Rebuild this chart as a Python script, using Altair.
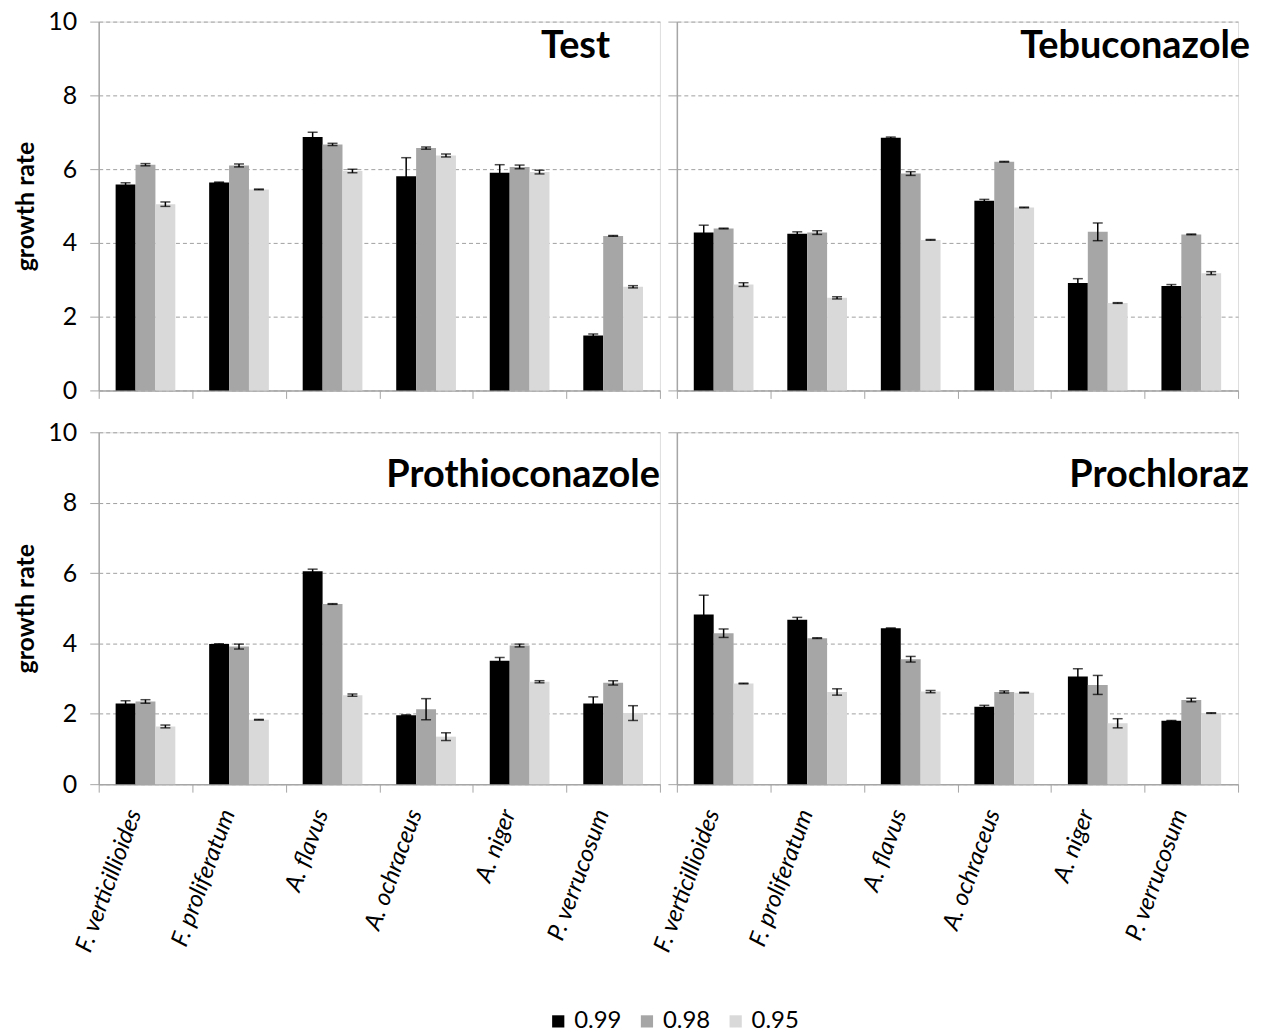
import altair as alt
import pandas as pd

species = ["F. verticillioides", "F. proliferatum", "A. flavus", "A. ochraceus", "A. niger", "P. verrucosum"]
aw_levels = ["0.99", "0.98", "0.95"]
panels = ["Test", "Tebuconazole", "Prothioconazole", "Prochloraz"]

# growth rate values per panel and water activity level
test_099 = [5.58, 5.64, 6.87, 5.81, 5.90, 1.49]
test_098 = [6.12, 6.10, 6.67, 6.57, 6.06, 4.19]
test_095 = [5.05, 5.45, 5.95, 6.37, 5.92, 2.81]
test_err_099 = [0.05, 0.01, 0.13, 0.50, 0.22, 0.04]
test_err_098 = [0.03, 0.04, 0.03, 0.03, 0.05, 0.01]
test_err_095 = [0.06, 0.01, 0.05, 0.04, 0.05, 0.03]

teb_099 = [4.28, 4.25, 6.85, 5.14, 2.91, 2.83]
teb_098 = [4.39, 4.28, 5.88, 6.20, 4.30, 4.23]
teb_095 = [2.87, 2.51, 4.08, 4.96, 2.37, 3.18]
teb_err_099 = [0.20, 0.05, 0.02, 0.04, 0.12, 0.04]
teb_err_098 = [0.01, 0.05, 0.05, 0.01, 0.24, 0.01]
teb_err_095 = [0.05, 0.03, 0.01, 0.01, 0.01, 0.04]

prot_099 = [2.29, 3.98, 6.05, 1.96, 3.51, 2.29]
prot_098 = [2.35, 3.91, 5.12, 2.13, 3.94, 2.88]
prot_095 = [1.64, 1.83, 2.53, 1.35, 2.91, 2.02]
prot_err_099 = [0.08, 0.01, 0.06, 0.01, 0.09, 0.19]
prot_err_098 = [0.05, 0.07, 0.01, 0.30, 0.04, 0.06]
prot_err_095 = [0.04, 0.01, 0.03, 0.11, 0.03, 0.21]

proc_099 = [4.82, 4.67, 4.43, 2.20, 3.06, 1.80]
proc_098 = [4.29, 4.15, 3.55, 2.62, 2.82, 2.39]
proc_095 = [2.86, 2.62, 2.63, 2.60, 1.73, 2.02]
proc_err_099 = [0.55, 0.07, 0.01, 0.04, 0.22, 0.01]
proc_err_098 = [0.12, 0.01, 0.08, 0.03, 0.27, 0.05]
proc_err_095 = [0.01, 0.09, 0.03, 0.01, 0.13, 0.01]

series = {
    "Test": ([test_099, test_098, test_095], [test_err_099, test_err_098, test_err_095]),
    "Tebuconazole": ([teb_099, teb_098, teb_095], [teb_err_099, teb_err_098, teb_err_095]),
    "Prothioconazole": ([prot_099, prot_098, prot_095], [prot_err_099, prot_err_098, prot_err_095]),
    "Prochloraz": ([proc_099, proc_098, proc_095], [proc_err_099, proc_err_098, proc_err_095]),
}

rows = []
for p in panels:
    vals, errs = series[p]
    for k, aw in enumerate(aw_levels):
        for i, sp in enumerate(species):
            v, e = vals[k][i], errs[k][i]
            rows.append({"panel": p, "species": sp, "aw": aw, "value": v,
                         "err": e, "lo": v - e, "hi": v + e})
df = pd.DataFrame(rows)

colors = ["#000000", "#a6a6a6", "#d9d9d9"]
FONT = "Lato"
W = 563


def make_panel(name, show_x_labels, show_y_labels, height, title_right, title_base):
    d = df[df["panel"] == name]
    base = alt.Chart(d)
    x_axis = alt.Axis(
        title=None, labels=show_x_labels, tickBand="extent", grid=False,
        domainColor="#a6a6a6", domainWidth=1.5, tickColor="#a6a6a6", tickSize=8,
        labelAngle=-70, labelAlign="right", labelBaseline="middle",
        labelFontSize=24, labelFontStyle="italic", labelFont=FONT, labelColor="#000",
        labelPadding=18, labelOffset=-11,
    )
    y_axis = alt.Axis(
        title="growth rate" if show_y_labels else None, labels=show_y_labels,
        values=[0, 2, 4, 6, 8, 10], grid=True, gridDash=[4, 3], gridColor="#a0a0a0",
        domainColor="#a6a6a6", domainWidth=1.5, tickColor="#a6a6a6", tickSize=9,
        labelFontSize=25, labelFont=FONT, labelColor="#000", labelPadding=13,
        titleFontSize=25, titleFont=FONT, titleFontWeight="bold", titleColor="#000",
        titlePadding=9,
    )
    x = alt.X("species:N", sort=species, axis=x_axis,
              scale=alt.Scale(paddingInner=0, paddingOuter=0))
    xo = alt.XOffset("aw:N", sort=aw_levels,
                     scale=alt.Scale(domain=aw_levels, paddingInner=0, paddingOuter=0.85))
    yscale = alt.Scale(domain=[0, 10], nice=False)

    bars = base.mark_bar().encode(
        x=x, xOffset=xo,
        y=alt.Y("value:Q", scale=yscale, axis=y_axis),
        color=alt.Color("aw:N", sort=aw_levels,
                        scale=alt.Scale(domain=aw_levels, range=colors),
                        legend=alt.Legend(
                            title=None, orient="none", direction="horizontal",
                            legendX=449, legendY=991,
                            symbolType="square", symbolSize=150, symbolStrokeWidth=0,
                            symbolOpacity=1, labelFontSize=24, labelFont=FONT,
                            labelColor="#000", columnPadding=13, labelOffset=4,
                        )),
    )
    rules = base.mark_rule(color="black", strokeWidth=1.5).encode(
        x=x, xOffset=xo,
        y=alt.Y("lo:Q", scale=yscale, axis=y_axis), y2="hi:Q",
    )
    caps_hi = base.mark_tick(color="black", thickness=1.5, size=10).encode(
        x=x, xOffset=xo, y=alt.Y("hi:Q", scale=yscale, axis=y_axis),
    )
    caps_lo = base.mark_tick(color="black", thickness=1.5, size=10).encode(
        x=x, xOffset=xo, y=alt.Y("lo:Q", scale=yscale, axis=y_axis),
    )
    title = alt.Chart(pd.DataFrame({"panel": [name]})).mark_text(
        align="right", baseline="alphabetic", fontSize=38, fontWeight="bold",
        font=FONT, color="#000",
    ).encode(text="panel:N", x=alt.value(title_right), y=alt.value(title_base))
    return alt.layer(bars, rules, caps_hi, caps_lo, title).properties(
        width=W, height=height,
    )


p1 = make_panel("Test", False, True, 370, 513, 37)
p2 = make_panel("Tebuconazole", False, False, 370, 575, 37)
p3 = make_panel("Prothioconazole", True, True, 353, 563, 55)
p4 = make_panel("Prochloraz", True, False, 353, 574, 55)

top = alt.hconcat(p1, p2, spacing=17, bounds="flush")
bottom = alt.hconcat(p3, p4, spacing=17, bounds="flush")

chart = alt.vconcat(top, bottom, spacing=15).properties(
    padding={"left": 5, "top": -1, "right": 5, "bottom": 0}
).configure_view(stroke=None).configure(font=FONT)

chart.save("out.html", embed_options={"renderer": "svg", "actions": False})
